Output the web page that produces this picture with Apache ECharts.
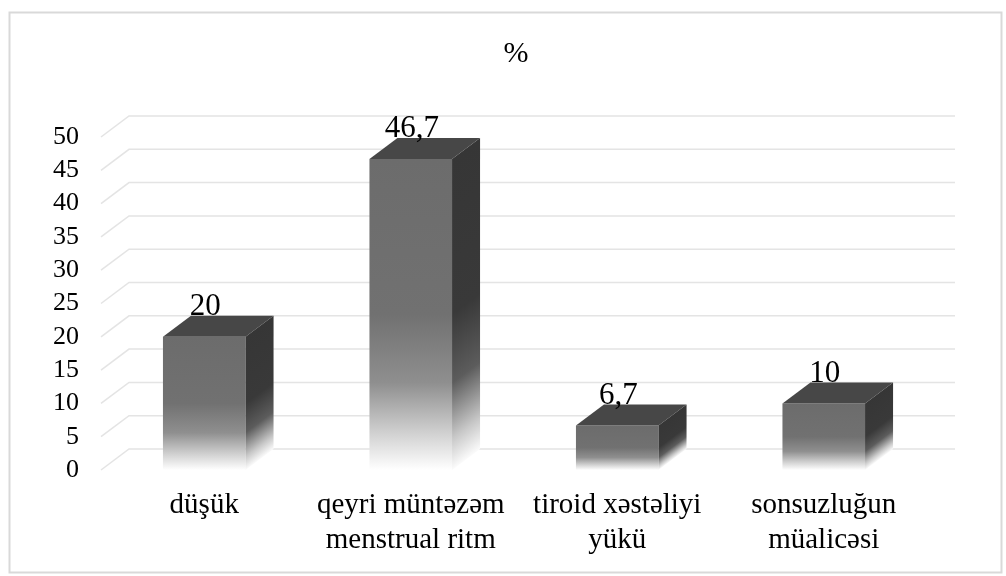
<!DOCTYPE html>
<html>
<head>
<meta charset="utf-8">
<title>%</title>
<script src="https://cdn.jsdelivr.net/npm/echarts@6/dist/echarts.min.js"></script>
<style>
  html, body { margin: 0; padding: 0; background: #ffffff; }
  #chart { width: 1006px; height: 576px; }
</style>
</head>
<body>
<div id="chart"></div>
<script>
// Categories (line breaks split the longer names over two rows)
const categories = ['düşük', 'qeyri müntəzəm\nmenstrual ritm', 'tiroid xəstəliyi\nyükü', 'sonsuzluğun\nmüalicəsi'];
// Share of cases, %
const values = [20, 46.7, 6.7, 10];
// Value-axis ticks
const yTicks = [0, 5, 10, 15, 20, 25, 30, 35, 40, 45, 50];

const FONT = '"Liberation Serif", "Times New Roman", serif';
// Depth of the pseudo-3D boxes and of the back wall
const DX = 28, DY = 21;

function fmtValue(v) {
  return String(v).replace('.', ',');
}

const frontStops = [
  { offset: 0, color: '#6c6c6c' },
  { offset: 0.5, color: '#717171' },
  { offset: 0.72, color: '#8f8f8f' },
  { offset: 0.88, color: '#d0d0d0' },
  { offset: 1, color: '#ffffff' }
];
const sideStops = [
  { offset: 0, color: '#363636' },
  { offset: 0.5, color: '#393939' },
  { offset: 0.72, color: '#5c5c5c' },
  { offset: 0.9, color: '#c8c8c8' },
  { offset: 1, color: '#fbfbfb' }
];

function renderBar(params, api) {
  const idx = api.value(0);
  const v = api.value(1);
  const top = api.coord([idx, v]);
  const base = api.coord([idx, 0]);
  const band = api.size([1, 0])[0];
  const w = band * 0.4;
  const xl = top[0] - w / 2, xr = top[0] + w / 2;
  const yt = top[1], yb = base[1];
  const H = yb - yt;
  const L2 = DX * DX + DY * DY;
  const sideGrad = new echarts.graphic.LinearGradient(
    xr, yt, xr + DY * DX * H / L2, yt + DX * DX * H / L2, sideStops, true);
  return {
    type: 'group',
    children: [
      {
        type: 'rect',
        shape: { x: xl, y: yt, width: w, height: H },
        style: { fill: new echarts.graphic.LinearGradient(0, 0, 0, 1, frontStops) }
      },
      {
        type: 'polygon',
        shape: { points: [[xl, yt], [xl + DX, yt - DY], [xr + DX, yt - DY], [xr, yt]] },
        style: { fill: '#474747' }
      },
      {
        type: 'polygon',
        shape: { points: [[xr, yt], [xr + DX, yt - DY], [xr + DX, yb - DY], [xr, yb]] },
        style: { fill: sideGrad }
      },
      {
        type: 'text',
        style: {
          text: fmtValue(v),
          x: top[0] + 1,
          y: yt - DY - 9,
          align: 'center',
          verticalAlign: 'middle',
          fill: '#000000',
          font: '31px ' + FONT
        }
      }
    ]
  };
}

// Gridlines: a short diagonal on the side wall, then across the back wall
function renderGrid(params, api) {
  const v = api.value(1);
  const p = api.coord([0, v]);
  const cs = params.coordSys;
  return {
    type: 'polyline',
    shape: { points: [[cs.x, p[1]], [cs.x + DX, p[1] - DY], [cs.x + cs.width + DX, p[1] - DY]] },
    style: { stroke: '#e4e4e4', lineWidth: 1.5, fill: null }
  };
}

const chart = echarts.init(document.getElementById('chart'), null, { renderer: 'canvas' });
chart.setOption({
  backgroundColor: '#ffffff',
  animation: false,
  title: {
    text: '%',
    left: 511,
    top: 34,
    textAlign: 'center',
    textStyle: { fontFamily: FONT, fontSize: 30, fontWeight: 'normal', color: '#000000' }
  },
  graphic: [
    {
      type: 'rect',
      left: 7, top: 10,
      shape: { width: 992, height: 560 },
      style: { fill: 'none', stroke: '#d9d9d9', lineWidth: 2 },
      silent: true
    }
  ],
  grid: { left: 101, right: 79, top: 137, bottom: 106 },
  xAxis: {
    type: 'category',
    data: categories,
    axisLine: { show: false },
    axisTick: { show: false },
    splitLine: { show: false },
    axisLabel: {
      margin: 18,
      interval: 0,
      fontFamily: FONT,
      fontSize: 29,
      lineHeight: 35,
      color: '#000000'
    }
  },
  yAxis: {
    type: 'value',
    min: 0,
    max: 50,
    interval: 5,
    axisLine: { show: false },
    axisTick: { show: false },
    splitLine: { show: false },
    axisLabel: {
      margin: 22,
      fontFamily: FONT,
      fontSize: 26,
      color: '#000000'
    }
  },
  series: [
    {
      type: 'custom',
      renderItem: renderGrid,
      data: yTicks.map(t => [0, t]),
      clip: false,
      silent: true,
      z: 1
    },
    {
      type: 'custom',
      renderItem: renderBar,
      data: values.map((v, i) => [i, v]),
      clip: false,
      z: 2
    }
  ]
});
</script>
</body>
</html>
